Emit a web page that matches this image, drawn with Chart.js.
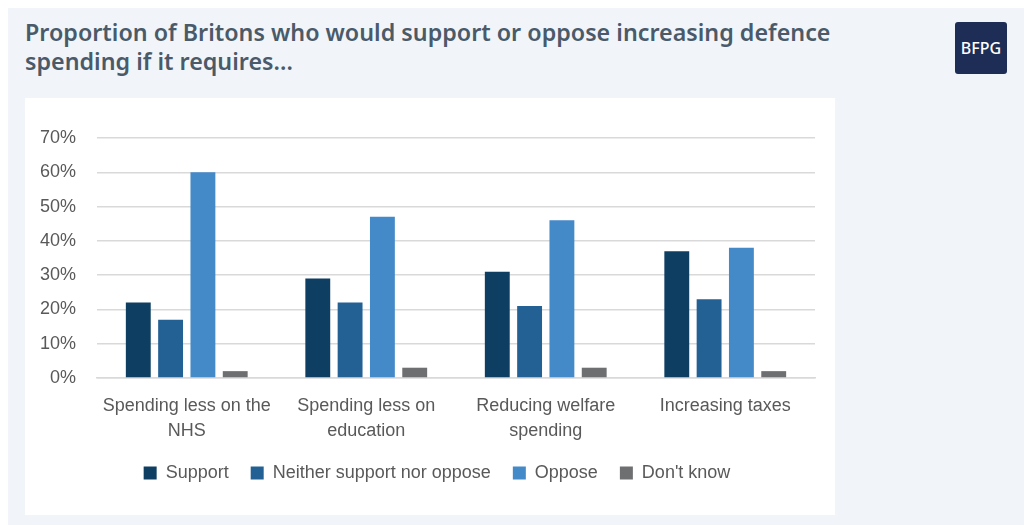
<!DOCTYPE html>
<html>
<head>
<meta charset="utf-8">
<script src="https://cdn.jsdelivr.net/npm/chart.js@4"></script>
<style>
  html, body { margin: 0; padding: 0; background: #ffffff; }
  body { width: 1024px; height: 525px; overflow: hidden; position: relative; }
  #fondo { position: absolute; left: 8px; top: 8px; width: 1016px; height: 517px; background: #f1f5f9; }
  #titulo {
    position: absolute; left: 25px; top: 17px; width: 880px;
    font-family: "Noto Sans", sans-serif; font-weight: 600; font-size: 24px;
    line-height: 29px; color: #4b5a69;
    transform: scaleX(0.97); transform-origin: left top;
  }
  #logo {
    position: absolute; left: 955px; top: 22px; width: 52px; height: 52px;
    background: #1e2d55; border-radius: 3px; color: #fff;
    font-family: "Noto Sans", sans-serif; font-size: 16px; font-weight: 500;
    display: flex; align-items: center; justify-content: center;
  }
  #panel { position: absolute; left: 25px; top: 98px; width: 810px; height: 417px; background: #ffffff; }
</style>
</head>
<body>
<div id="fondo"></div>
<div id="titulo">Proportion of Britons who would support or oppose increasing defence spending if it requires...</div>
<div id="logo">BFPG</div>
<div id="panel"><canvas id="grafico" width="810" height="417"></canvas></div>
<script>
// Datos (porcentajes)
const categorias = [
  ['Spending less on the', 'NHS'],
  ['Spending less on', 'education'],
  ['Reducing welfare', 'spending'],
  ['Increasing taxes']
];
const apoyo = [22, 29, 31, 37];
const ninguno = [17, 22, 21, 23];
const oposicion = [60, 47, 46, 38];
const noSabe = [2, 3, 3, 2];
const ticksY = [0, 10, 20, 30, 40, 50, 60, 70];

const colores = ['#0e3f62', '#236195', '#4489c8', '#6d6f71'];
const fuente = '"Liberation Sans", Arial, sans-serif';

// la leyenda del original está centrada un poco más a la derecha
const moverLeyenda = {
  id: 'moverLeyenda',
  afterLayout(chart) {
    chart.legend.left += 17;
    chart.legend.right += 17;
  }
};

const ctx = document.getElementById('grafico').getContext('2d');
new Chart(ctx, {
  type: 'bar',
  data: {
    labels: categorias,
    datasets: [
      { label: 'Support', data: apoyo, backgroundColor: colores[0] },
      { label: 'Neither support nor oppose', data: ninguno, backgroundColor: colores[1] },
      { label: 'Oppose', data: oposicion, backgroundColor: colores[2] },
      { label: "Don't know", data: noSabe, backgroundColor: colores[3] }
    ]
  },
  options: {
    responsive: false,
    animation: false,
    layout: { padding: { top: 40, right: 20, bottom: 23, left: 0 } },
    datasets: { bar: { categoryPercentage: 0.72, barPercentage: 0.77 } },
    plugins: {
      tooltip: { enabled: false },
      legend: {
        position: 'bottom',
        labels: {
          boxWidth: 13, boxHeight: 13, padding: 22,
          color: '#595959',
          font: { family: fuente, size: 18 }
        }
      }
    },
    scales: {
      x: {
        grid: { display: false },
        border: { color: '#d9d9d9', width: 1.5 },
        ticks: {
          color: '#595959', padding: 7, maxRotation: 0,
          font: { family: fuente, size: 18, lineHeight: 1.4 }
        },
        afterFit: s => { s.height = 64; }
      },
      y: {
        min: 0, max: 70,
        afterBuildTicks: s => { s.ticks = ticksY.map(v => ({ value: v })); },
        grid: { color: '#d9d9d9', lineWidth: 1.5, drawTicks: false },
        border: { display: false },
        ticks: {
          color: '#595959', padding: 21,
          font: { family: fuente, size: 18 },
          callback: v => v + '%'
        },
        afterFit: s => { s.width = 72; }
      }
    }
  },
  plugins: [moverLeyenda]
});
</script>
</body>
</html>
